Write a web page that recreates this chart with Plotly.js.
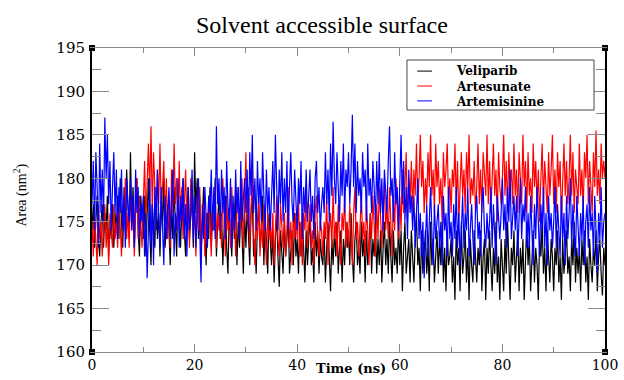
<!DOCTYPE html>
<html>
<head>
<meta charset="utf-8">
<script src="https://cdn.plot.ly/plotly-3.0.1.min.js"></script>
<style>html,body{margin:0;padding:0;background:#fff;}#chart{width:624px;height:380px;}</style>
</head>
<body>
<div id="chart"></div>
<script>
// Time axis: 0 to 100 ns, one sample every 0.25 ns
const timeStart = 0;
const timeStep = 0.25;
const seriesNames = ["Veliparib", "Artesunate", "Artemisinine"];

// Veliparib (black), area in nm^2
const veliparib = [
174,177,172,176,178,173,171,175,177,172,
176,174,178,171,175,173,177,172,176,174,
178,173,180,175,172,179,174,181,176,173,
183,175,179,172,177,180,174,171,178,175,
173,178,171,176,180,174,170,177,175,172,
179,173,176,171,178,174,180,172,175,177,
174,170,177,173,179,175,171,178,176,172,
177,180,174,171,176,179,173,175,178,172,
183,176,180,173,178,171,175,179,174,170,
176,173,179,172,177,174,180,171,175,178,
173,176,170,175,178,172,169,176,174,171,
177,173,179,170,175,172,178,174,169,176,
172,177,174,170,176,178,171,173,169,175,
177,172,174,178,170,175,173,169,176,172,
170,174,168,173,176,171,167.5,174,172,169,
175,171,173,176,169,172,174,170,176,171,
173,169,175,171,176,172,168,174,170,173,
176,170,172,168,175,171,174,169,173,171,
170,174,168,172,175,171,167,173,170,174,
171,175,169,172,174,168,173,170,175,172,
174,170,176,171,168,173,175,170,172,169,
175,171,173,168,174,170,172,176,169,173,
171,175,169,173,170,174,168,172,175,170,
173,169,175,171,168,174,170,172,169,175,
170,174,167,172,175,169,171,173,168,174,
171,168,173,176,170,172,167,174,169,171,
174,169,172,167,175,170,173,168,171,174,
169,173,170,175,168,172,167,174,170,171,
173,168,171,166,174,170,172,167,175,169,
171,174,168,172,166,173,170,168,174,171,
168,172,170,174,167,171,173,166,172,169,
174,170,167,172,169,175,168,171,166,173,
170,167,173,169,175,171,166,172,170,174,
168,171,174,167,172,169,173,166,171,175,
170,173,167,171,174,168,172,170,166,173,
171,175,169,172,167,174,170,168,173,171,
167,172,170,174,168,171,166,173,169,172,
174,169,171,167,173,170,175,168,172,169,
172,167,173,170,174,168,171,166,173,170,
168,172,170,174,167,171,173,169,166.5,172,
170];

// Artesunate (red)
const artesunate = [
175,171,176,172,170,177,173,175,171,174,
177,172,175,170,176,174,172,177,173,175,
172,178,174,171,177,175,180,173,176,172,
179,174,177,171,176,180,173,178,175,172,
177,182,175,180,184,178,186,176,183,179,
174,181,177,184,176,179,182,175,180,173,
178,172,181,176,184,177,180,174,182,175,
179,173,177,181,175,178,172,180,176,174,
176,171,178,174,179,172,175,177,171,176,
173,178,175,171,177,174,179,172,176,174,
177,172,180,175,171,178,174,176,172,179,
174,177,171,176,179,173,175,180,172,177,
183,175,179,172,177,181,174,170,176,173,
178,171,175,172,177,174,170,176,173,175,
172,176,170,174,178,173,171,177,175,172,
176,171,174,179,172,175,170,177,173,176,
173,178,171,175,170,176,174,179,172,175,
177,172,174,170,176,178,173,171,175,174,
171,175,173,178,170,174,176,172,179,173,
175,171,177,173,170,176,174,178,172,175,
172,177,174,170,176,179,173,175,171,174,
178,173,175,171,177,174,170,176,173,178,
174,171,177,173,179,175,172,176,180,174,
177,173,179,175,171,178,174,180,176,173,
178,174,181,176,179,183,175,180,177,182,
176,181,178,184,177,180,185,179,182,176,
180,177,183,179,185,178,181,176,184,179,
182,177,180,175,183,179,181,184,177,180,
176,181,179,184,177,182,175,180,183,178,
181,176,183,179,185,177,180,178,182,176,
179,184,177,181,176,183,180,178,185,177,
182,176,180,184,178,181,175,183,179,177,
180,185,178,182,176,183,179,181,177,184,
178,181,176,183,180,177,185,179,182,176,
183,178,180,176,184,179,182,177,181,175,
180,184,177,182,179,176,183,178,181,185,
177,181,176,183,179,182,175,180,184,178,
182,177,180,185,178,183,176,181,179,177,
184,178,181,176,183,180,185,177,182,179,
176,183,179,185.5,178,181,177,184,180,182,
180];

// Artemisinine (blue)
const artemisinine = [
177,182,174,183,179,172,184,176,181,175,
187,180,185,177,182,174,179,183,176,181,
173,179,176,181,174,178,172,180,177,175,
180,174,178,172,181,176,179,173,177,175,
178,171,176,168.5,174,180,172,177,170,179,
174,181,176,172,179,175,170,178,173,176,
179,173,177,181,171,176,174,180,172,178,
175,180,173,177,171,179,174,176,181,173,
178,172,176,180,174,168,177,173,179,175,
172,178,176,181,174,179,173,186,177,180,
174,181,176,179,173,182,177,175,180,172,
178,174,181,176,179,173,182,175,177,180,
176,181,174,183,178,185,176,180,174,182,
177,180,175,183,178,174,181,176,179,174,
178,182,176,185,179,174,181,177,183,175,
180,176,182,174,179,183,177,175,181,178,
174,180,177,182,173,179,176,181,175,178,
181,175,178,173,180,182,176,179,174,177,
179,176,183,177,181,175,184,178,186.5,180,
177,183,179,175,182,178,184,176,181,179,
183,177,181,187.3,179,184,176,182,178,180,
176,183,179,181,175,184,178,180,176,182,
179,175,182,177,183,176,180,174,181,178,
176,182,186,178,180,175,183,177,179,174,
180,185,177,182,175,179,173,181,176,178,
174,178,172,177,180,173,176,171,175,168.5,
173,177,171,176,179,174,170,177,173,175,
177,172,175,170,178,174,176,171,179,173,
175,171,177,173,179,172,176,170,174,178,
172,176,174,179,171,175,177,173,170,176,
178,173,175,171,177,179,174,172,176,173,
175,179,172,177,174,170,178,175,173,176,
180,174,177,172,179,175,181,173,176,178,
174,178,171,176,180,173,177,175,179,172,
176,172,178,174,170,177,173,179,175,171,
177,174,179,172,176,170,178,174,176,172,
175,179,172,177,174,171,178,173,176,170,
178,173,176,180,172,177,174,171,178,175,
171,176,173,178,170,175,177,172,179,174,
176,171,178,174,169,176,173,179,172,175,
176];

const seriesColors = ["#000000", "#ff0000", "#0000ff"];
const seriesValues = [veliparib, artesunate, artemisinine];

// frame corner markers (axis extremes)
const cornerX = [0, 100, 0, 100];
const cornerY = [195, 195, 160, 160];

const traces = seriesValues.map((vals, i) => ({
  type: "scatter",
  mode: "lines",
  name: seriesNames[i],
  x0: timeStart,
  dx: timeStep,
  y: vals,
  line: {color: seriesColors[i], width: 1.2}
}));
traces.push({
  type: "scatter", mode: "markers", x: cornerX, y: cornerY,
  showlegend: false, hoverinfo: "skip", cliponaxis: false,
  marker: {symbol: "square", size: 6, color: "#000"}
});

// manual legend (compact Grace-style box)
const legTop = 0.9605, legBottom = 0.796, legLeft = 0.614, legRight = 0.9786;
const legRows = [0.924, 0.875, 0.826];
const shapes = [{type: "rect", xref: "paper", yref: "paper", x0: legLeft, x1: legRight, y0: legBottom, y1: legTop,
  line: {color: "#444", width: 1}, fillcolor: "#fff", layer: "above"}];
seriesNames.forEach((nm, i) => {
  shapes.push({type: "line", xref: "paper", yref: "paper", x0: 0.634, x1: 0.663, y0: legRows[i], y1: legRows[i],
    line: {color: seriesColors[i], width: 1}, layer: "above"});
});
const annotations = [
  {xref: "paper", yref: "paper", x: 0.706, y: legRows[1], xanchor: "left", yanchor: "middle", align: "left",
   text: seriesNames.join("<br>"), showarrow: false,
   font: {family: "DejaVu Serif", size: 12, weight: "bold", color: "#000"}},
  {xref: "paper", yref: "paper", x: 0.504, y: -0.0855, xanchor: "center", yanchor: "bottom",
   text: "Time (ns)", showarrow: false,
   font: {family: "DejaVu Serif", size: 13, weight: "bold", color: "#000"}},
  {xref: "paper", yref: "paper", x: -0.14, y: 0.515, xanchor: "center", yanchor: "middle", textangle: -90,
   text: "Area (nm<sup>2</sup>)", showarrow: false,
   font: {family: "Liberation Serif", size: 14, color: "#000"}}
];

const tickFont = {family: "DejaVu Serif", size: 14, color: "#000"};

const layout = {
  width: 624, height: 380,
  margin: {l: 92, r: 19, t: 48, b: 28},
  paper_bgcolor: "#fff", plot_bgcolor: "#fff",
  showlegend: false,
  title: {text: "Solvent accessible surface", font: {family: "Liberation Serif", size: 24, color: "#000"},
          x: 0.516, xref: "container", y: 0.934, yref: "container", xanchor: "center", yanchor: "middle"},
  xaxis: {
    range: [0, 100], dtick: 20, tick0: 0, ticks: "inside", ticklen: 8, tickwidth: 1, tickcolor: "#888",
    minor: {dtick: 10, ticks: "inside", ticklen: 5, tickwidth: 1, tickcolor: "#888"},
    showline: true, linecolor: "#888", linewidth: 1, mirror: "ticks",
    showgrid: false, zeroline: false, tickfont: tickFont, ticklabelstandoff: 0
  },
  yaxis: {
    range: [160, 195], dtick: 5, tick0: 160, ticks: "inside", ticklen: 17, tickwidth: 1, tickcolor: "#888",
    minor: {dtick: 2.5, ticks: "inside", ticklen: 9, tickwidth: 1, tickcolor: "#888"},
    showline: true, linecolor: "#000", linewidth: 2, mirror: "ticks",
    showgrid: false, zeroline: false, tickfont: {family: "DejaVu Serif", size: 15, color: "#000"}, ticklabelstandoff: 2
  },
  shapes: shapes,
  annotations: annotations
};

Plotly.newPlot("chart", traces, layout, {displayModeBar: false, staticPlot: true});
</script>
</body>
</html>
